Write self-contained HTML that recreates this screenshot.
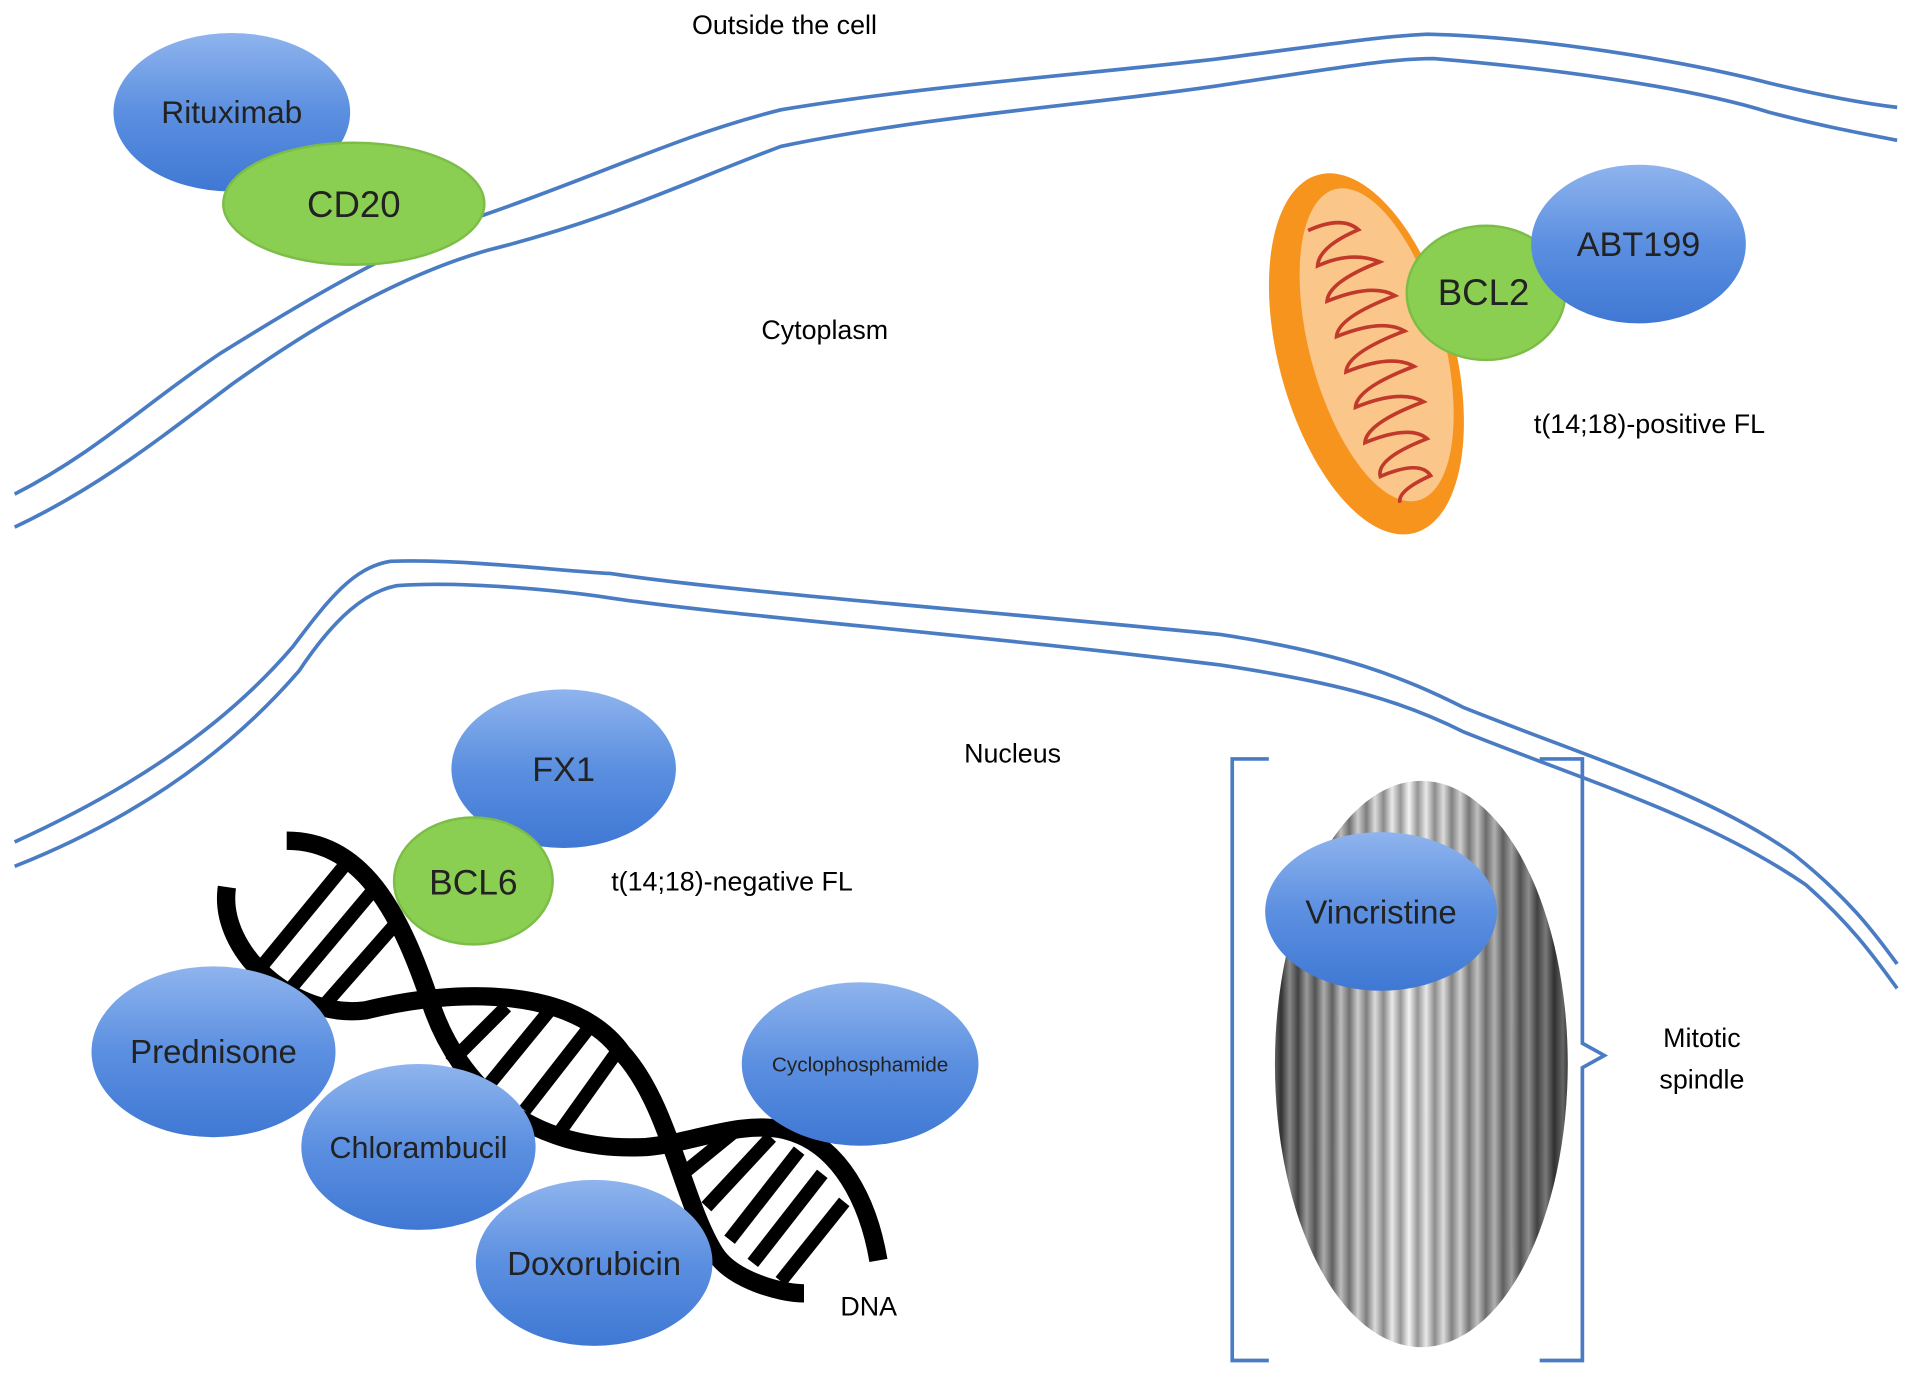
<!DOCTYPE html>
<html><head><meta charset="utf-8"><style>
html,body{margin:0;padding:0;background:#fff;}
svg{display:block;}
text{font-family:"Liberation Sans",sans-serif;}
</style></head><body>
<svg width="1913" height="1391" viewBox="0 0 1568 1140" preserveAspectRatio="none" xmlns="http://www.w3.org/2000/svg">
<defs>
<linearGradient id="blue" x1="0" y1="0" x2="0" y2="1">
<stop offset="0" stop-color="#8fb4ee"/><stop offset="0.5" stop-color="#5b8fe0"/><stop offset="1" stop-color="#3f78d4"/></linearGradient>
<linearGradient id="spin" x1="0" y1="0" x2="1" y2="0" spreadMethod="repeat">
<stop offset="0" stop-color="#555"/><stop offset="0.5" stop-color="#eee"/><stop offset="1" stop-color="#555"/></linearGradient>
<linearGradient id="spinbig" x1="0" y1="0" x2="1" y2="0">
<stop offset="0" stop-color="#000" stop-opacity="0.5"/><stop offset="0.45" stop-color="#fff" stop-opacity="0.4"/><stop offset="1" stop-color="#000" stop-opacity="0.6"/></linearGradient>
<pattern id="stripes" width="14" height="40" patternUnits="userSpaceOnUse">
<rect width="14" height="40" fill="url(#spin)"/></pattern>
</defs>

<text x="643" y="28" font-size="22" text-anchor="middle">Outside the cell</text>
<text x="676" y="278" font-size="22" text-anchor="middle">Cytoplasm</text>
<text x="830" y="625" font-size="22" text-anchor="middle">Nucleus</text>

<g fill="none" stroke="#4a7cc4" stroke-width="3">
<path d="M12,405 C80,370 120,330 180,290 C260,240 330,200 400,175 C500,140 560,110 640,90 C760,70 900,60 1000,48 C1100,35 1130,30 1170,28 C1260,30 1380,50 1450,68 C1500,80 1530,85 1555,88"/>
<path d="M12,432 C80,400 130,360 190,315 C260,265 330,225 400,205 C500,180 560,150 640,120 C760,95 900,85 1000,70 C1100,55 1140,48 1175,48 C1260,55 1380,70 1450,92 C1500,105 1530,110 1555,115"/>
</g>
<g fill="none" stroke="#4a7cc4" stroke-width="3">
<path d="M12,690 C100,650 180,600 240,530 C270,490 290,465 320,460 C380,458 460,468 500,470 C600,485 800,500 1000,520 C1100,535 1150,555 1200,580 C1300,620 1400,650 1470,700 C1520,740 1540,770 1555,790"/>
<path d="M12,710 C100,675 180,625 245,550 C275,505 300,485 325,480 C380,476 460,484 500,490 C600,505 800,520 1000,545 C1100,560 1150,575 1200,600 C1300,640 1400,670 1480,725 C1520,760 1540,790 1555,810"/>
</g>

<ellipse cx="190" cy="92" rx="97" ry="65" fill="url(#blue)"/>
<ellipse cx="290" cy="167" rx="107" ry="50" fill="#8bcf52" stroke="#7bbd47" stroke-width="2"/>
<text x="190" y="101" font-size="26" text-anchor="middle" fill="#222">Rituximab</text>
<text x="290" y="178" font-size="30" text-anchor="middle" fill="#222">CD20</text>

<g transform="rotate(-15 1120 290)">
<ellipse cx="1120" cy="290" rx="72" ry="152" fill="#f7941d"/>
<ellipse cx="1130" cy="285" rx="55" ry="132" fill="#fbc68a"/>
<path d="M1100,180 q30,-5 40,10 q-35,5 -40,20 q30,-5 50,10 q-45,5 -50,20 q40,-5 55,10 q-50,5 -55,20 q40,-5 55,10 q-50,5 -55,20 q40,-5 55,10 q-50,5 -55,20 q40,-5 55,10 q-50,5 -55,20 q40,-5 50,10 q-45,5 -45,20 q35,-5 40,10 q-30,5 -30,15" fill="none" stroke="#c0392b" stroke-width="3"/>
</g>
<ellipse cx="1218" cy="240" rx="65" ry="55" fill="#8bcf52" stroke="#7bbd47" stroke-width="2"/>
<ellipse cx="1343" cy="200" rx="88" ry="65" fill="url(#blue)"/>
<text x="1216" y="250" font-size="30" text-anchor="middle" fill="#222">BCL2</text>
<text x="1343" y="210" font-size="28" text-anchor="middle" fill="#222">ABT199</text>
<text x="1352" y="355" font-size="22" text-anchor="middle">t(14;18)-positive FL</text>

<!-- DNA -->
<g fill="none" stroke="#000">
<path d="M235,689 C300,689 330,754 353,822 C376,891 434,945 530,940 C567,937 606,918 643,926 C689,937 712,986 720,1033" stroke-width="15"/>
<path d="M186,727 C178,781 243,836 300,828 C376,809 472,809 510,863 C548,904 560,986 586,1027 C600,1049 640,1060 659,1060" stroke-width="15"/>
<g stroke-width="11">
<line x1="212" y1="795" x2="281" y2="711"/><line x1="235" y1="814" x2="308" y2="727"/><line x1="262" y1="828" x2="327" y2="754"/>
<line x1="369" y1="871" x2="415" y2="825"/><line x1="399" y1="891" x2="453" y2="825"/><line x1="430" y1="910" x2="483" y2="842"/><line x1="460" y1="926" x2="505" y2="863"/>
<line x1="562" y1="960" x2="605" y2="925"/><line x1="579" y1="989" x2="632" y2="932"/><line x1="598" y1="1016" x2="655" y2="943"/><line x1="617" y1="1035" x2="674" y2="962"/><line x1="640" y1="1050" x2="692" y2="985"/>
</g></g>
<text x="712" y="1078" font-size="22" text-anchor="middle">DNA</text>

<ellipse cx="462" cy="630" rx="92" ry="65" fill="url(#blue)"/>
<ellipse cx="388" cy="722" rx="65" ry="52" fill="#8bcf52" stroke="#7bbd47" stroke-width="2"/>
<text x="462" y="640" font-size="28" text-anchor="middle" fill="#222">FX1</text>
<text x="388" y="733" font-size="29" text-anchor="middle" fill="#222">BCL6</text>
<text x="600" y="730" font-size="22" text-anchor="middle">t(14;18)-negative FL</text>

<ellipse cx="175" cy="862" rx="100" ry="70" fill="url(#blue)"/>
<ellipse cx="343" cy="940" rx="96" ry="68" fill="url(#blue)"/>
<ellipse cx="487" cy="1035" rx="97" ry="68" fill="url(#blue)"/>
<ellipse cx="705" cy="872" rx="97" ry="67" fill="url(#blue)"/>
<text x="175" y="871" font-size="27" text-anchor="middle" fill="#222">Prednisone</text>
<text x="343" y="949" font-size="25" text-anchor="middle" fill="#222">Chlorambucil</text>
<text x="487" y="1045" font-size="27" text-anchor="middle" fill="#222">Doxorubicin</text>
<text x="705" y="878" font-size="17" text-anchor="middle" fill="#222">Cyclophosphamide</text>

<ellipse cx="1165" cy="872" rx="120" ry="232" fill="url(#stripes)"/>
<ellipse cx="1165" cy="872" rx="120" ry="232" fill="url(#spinbig)"/>
<ellipse cx="1132" cy="747" rx="95" ry="65" fill="url(#blue)"/>
<text x="1132" y="757" font-size="27" text-anchor="middle" fill="#222">Vincristine</text>

<g fill="none" stroke="#4a7cc4" stroke-width="3">
<path d="M1040,622 H1010 V1115 H1040"/>
<path d="M1262,622 H1297 V855 L1315,865 L1297,875 V1115 H1262"/>
</g>
<text x="1395" y="858" font-size="22" text-anchor="middle">Mitotic</text>
<text x="1395" y="892" font-size="22" text-anchor="middle">spindle</text>
</svg>
</body></html>
